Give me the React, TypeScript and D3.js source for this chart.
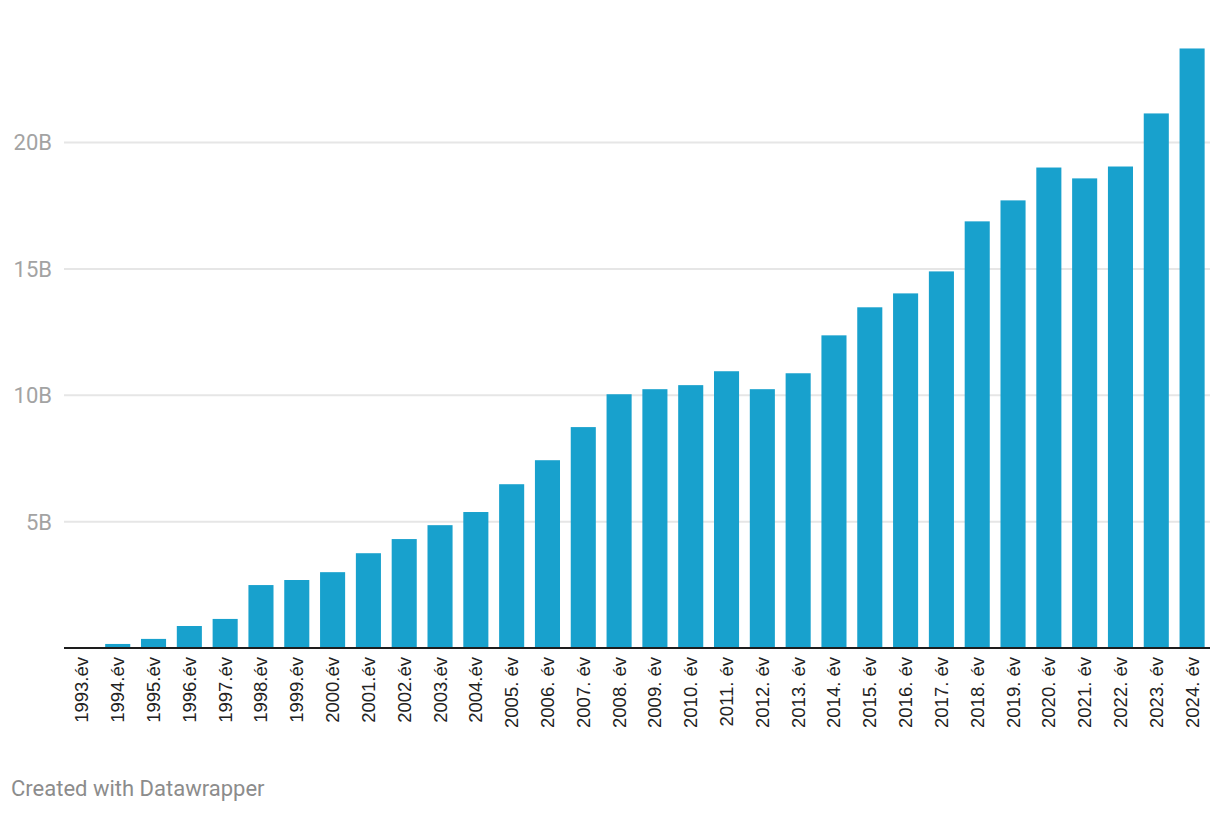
import { useEffect, useRef } from "react"
import * as d3 from "d3"

const YEARS = [
  "1993.év", "1994.év", "1995.év", "1996.év", "1997.év", "1998.év", "1999.év", "2000.év",
  "2001.év", "2002.év", "2003.év", "2004.év", "2005. év", "2006. év", "2007. év", "2008. év",
  "2009. év", "2010. év", "2011. év", "2012. év", "2013. év", "2014. év", "2015. év", "2016. év",
  "2017. év", "2018. év", "2019. év", "2020. év", "2021. év", "2022. év", "2023. év", "2024. év",
]
// billions
const VALUES = [
  0, 0.16, 0.36, 0.87, 1.15, 2.49, 2.69, 3.0,
  3.75, 4.31, 4.86, 5.38, 6.48, 7.43, 8.74, 10.04,
  10.24, 10.4, 10.95, 10.24, 10.87, 12.37, 13.48, 14.03,
  14.9, 16.88, 17.71, 19.01, 18.58, 19.05, 21.15, 23.72,
]
const Y_TICKS = [5, 10, 15, 20]

const W = 1220, H = 814
const FONT = "Roboto, 'Noto Sans', sans-serif"
const LABEL_FONT = "'Liberation Sans', Arial, sans-serif"

export default function App() {
  const ref = useRef<SVGSVGElement>(null)
  useEffect(() => {
    if (!ref.current) return
    const svg = d3.select(ref.current)
    svg.selectAll("*").remove()
    const left = 64, right = 1210, base = 648
    const x = d3.scaleBand<string>().domain(YEARS).range([left, right]).paddingInner(0.3).paddingOuter(0.15)
    const y = d3.scaleLinear().domain([0, 20]).range([base, 142.5])

    // grid
    const g = svg.append("g")
    Y_TICKS.forEach(t => {
      g.append("line").attr("x1", left).attr("x2", right).attr("y1", y(t)).attr("y2", y(t))
        .attr("stroke", "#e6e6e6").attr("stroke-width", 2)
      g.append("text").attr("x", 52).attr("y", y(t)).attr("dy", "0.36em").attr("text-anchor", "end")
        .style("fill", "#a3a3a3").style("font-size", "22px").style("font-family", FONT).text(`${t}B`)
    })

    // bars
    svg.append("g").selectAll("rect").data(VALUES).join("rect")
      .attr("x", (_, i) => x(YEARS[i])!).attr("width", x.bandwidth())
      .attr("y", d => y(d)).attr("height", d => base - y(d))
      .attr("fill", "#18a1cd")

    // baseline
    svg.append("line").attr("x1", left).attr("x2", right).attr("y1", base).attr("y2", base)
      .attr("stroke", "#1d1d1d").attr("stroke-width", 2)

    // x labels
    svg.append("g").selectAll("text").data(YEARS).join("text")
      .attr("transform", d => `translate(${x(d)! + x.bandwidth() / 2},${base + 9}) rotate(-90)`)
      .attr("text-anchor", "end").attr("dy", "0.35em")
      .style("fill", "#222").style("font-size", "18.5px").style("font-family", LABEL_FONT)
      .text(d => d)

    svg.append("text").attr("x", 11).attr("y", 796)
      .style("fill", "#8c8c8c").style("font-size", "22px").style("font-family", FONT)
      .text("Created with Datawrapper")
  }, [])
  return <svg ref={ref} width={W} height={H} style={{ position: "absolute", left: 0, top: 0, background: "#fff" }} />
}
